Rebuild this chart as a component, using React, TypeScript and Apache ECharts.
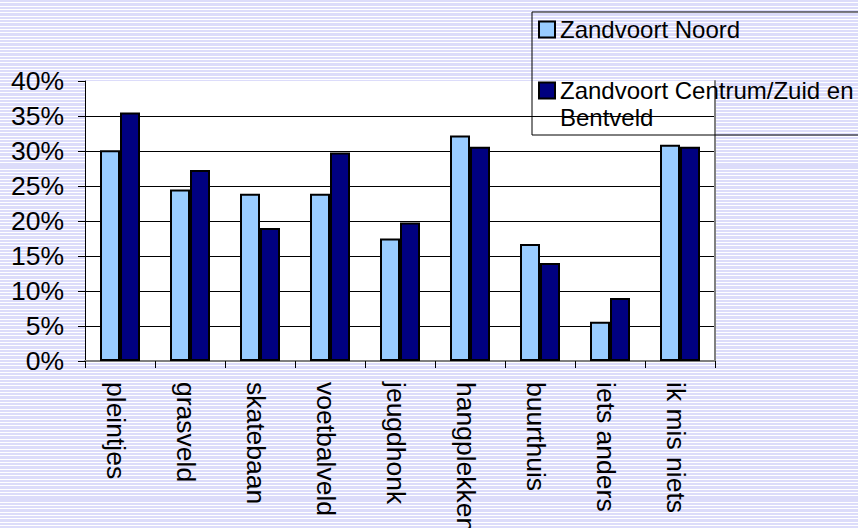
import React, { useEffect, useRef } from "react";
import * as echarts from "echarts";

const categories = [
  "pleintjes",
  "grasveld",
  "skatebaan",
  "voetbalveld",
  "jeugdhonk",
  "hangplekken",
  "buurthuis",
  "iets anders",
  "ik mis niets",
];
const seriesNames = ["Zandvoort Noord", "Zandvoort Centrum/Zuid en Bentveld"];
const noordValues = [30.1, 24.5, 23.9, 23.9, 17.5, 32.2, 16.7, 5.6, 30.9];
const centrumValues = [35.5, 27.3, 19.0, 29.8, 19.8, 30.6, 14.0, 9.0, 30.6];
const yTicks = { min: 0, max: 40, interval: 5 };

const FONT = "'Liberation Sans', Arial, Helvetica, sans-serif";

export default function App() {
  const ref = useRef<HTMLDivElement>(null);
  useEffect(() => {
    if (!ref.current) return;
    const chart = echarts.init(ref.current, null, { renderer: "svg" });
    const option = {
      animation: false,
      backgroundColor: "transparent",
      textStyle: { fontFamily: FONT, color: "#000" },
      grid: {
        left: 85,
        top: 81,
        right: 143,
        bottom: 167,
        containLabel: false,
        outerBoundsMode: "none",
        show: true,
        backgroundColor: "#ffffff",
        borderWidth: 0,
      },
      legend: {
        orient: "vertical",
        left: 532,
        top: 12,
        padding: [4, 80, 4, 6],
        itemGap: 7,
        itemWidth: 16,
        itemHeight: 16,
        icon: "rect",
        selectedMode: false,
        backgroundColor: "transparent",
        borderColor: "#000",
        borderWidth: 1,
        borderRadius: 0,
        itemStyle: { borderColor: "#000", borderWidth: 2 },
        textStyle: { fontFamily: FONT, fontSize: 24, lineHeight: 27, color: "#000" },
        formatter: (name: string) =>
          name === seriesNames[1] ? " \nZandvoort Centrum/Zuid en\nBentveld" : name,
        data: seriesNames,
      },
      xAxis: [
        {
          type: "category",
          data: categories,
          boundaryGap: true,
          axisLine: { show: true, lineStyle: { color: "#000", width: 1 } },
          axisTick: { show: true, alignWithLabel: false, length: 7, lineStyle: { color: "#000" } },
          axisLabel: {
            interval: 0,
            rotate: -90,
            margin: 21,
            fontFamily: FONT,
            fontSize: 26.5,
            color: "#000",
            verticalAlign: "top",
            lineHeight: 8,
          },
          splitLine: { show: false },
        },
        {
          type: "category",
          position: "top",
          data: categories,
          axisLine: { show: true, lineStyle: { color: "#808080", width: 2 } },
          axisTick: { show: false },
          axisLabel: { show: false },
          splitLine: { show: false },
        },
      ],
      yAxis: [
        {
          type: "value",
          min: yTicks.min,
          max: yTicks.max,
          interval: yTicks.interval,
          axisLine: { show: true, lineStyle: { color: "#000", width: 1 } },
          axisTick: { show: true, length: 7, lineStyle: { color: "#000" } },
          axisLabel: {
            formatter: "{value}%",
            margin: 21,
            fontFamily: FONT,
            fontSize: 26.5,
            color: "#000",
          },
          splitLine: {
            show: true,
            showMaxLine: false,
            showMinLine: false,
            lineStyle: { color: "#000", width: 1 },
          },
        },
        {
          type: "value",
          position: "right",
          min: yTicks.min,
          max: yTicks.max,
          interval: yTicks.interval,
          axisLine: { show: true, lineStyle: { color: "#808080", width: 2 } },
          axisTick: { show: false },
          axisLabel: { show: false },
          splitLine: { show: false },
        },
      ],
      series: [
        {
          name: seriesNames[0],
          type: "bar",
          data: noordValues,
          barWidth: 20,
          barGap: "0%",
          itemStyle: { color: "#99ccff", borderColor: "#000", borderWidth: 2 },
        },
        {
          name: seriesNames[1],
          type: "bar",
          data: centrumValues,
          barWidth: 20,
          barGap: "0%",
          itemStyle: { color: "#000080", borderColor: "#000", borderWidth: 2 },
        },
      ],
    };
    chart.setOption(option as any);
    return () => chart.dispose();
  }, []);

  return (
    <div
      style={{
        position: "absolute",
        left: 0,
        top: 0,
        width: 858,
        height: 528,
        overflow: "hidden",
        background:
          "repeating-linear-gradient(to bottom, #dcdcfa 0px, #dcdcfa 2.33px, #ffffff 2.33px, #ffffff 3.33px)",
      }}
    >
      <div ref={ref} style={{ width: 858, height: 528 }} />
    </div>
  );
}
